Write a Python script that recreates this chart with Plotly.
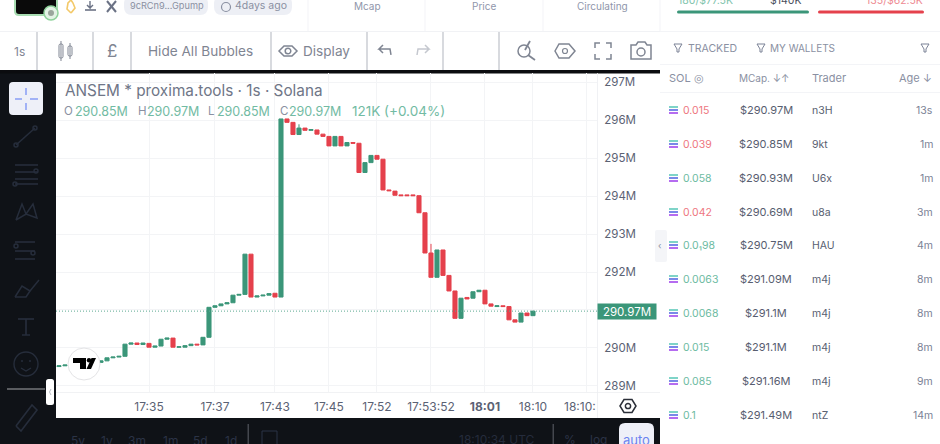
import plotly.graph_objects as go

# ---------- chart data (millions) ----------
opens = [289.51,289.53,289.55,289.56,289.58,289.59,289.60,289.62,289.66,289.74,289.76,289.78,290.10,290.13,290.09,290.12,
         290.02,290.05,290.23,290.26,290.02,290.02,290.06,290.10,290.08,290.28,291.07,291.11,291.16,291.19,291.39,291.41,
         292.47,291.34,291.37,291.39,291.44,291.34,296.03,295.94,295.62,295.79,295.73,295.74,295.63,295.57,295.32,295.57,
         295.32,295.41,295.39,294.62,294.88,295.07,294.97,294.16,294.13,294.03,294.03,294.03,294.01,293.56,292.50,291.86,
         292.58,291.91,291.50,290.78,291.33,291.31,291.48,291.52,291.16,291.09,291.11,291.09,290.74,290.68,290.92,290.85]
closes = [289.53,289.55,289.56,289.58,289.59,289.60,289.62,289.66,289.74,289.76,289.78,290.10,290.13,290.09,290.13,290.02,
          290.05,290.23,290.26,290.02,290.03,290.06,290.10,290.08,290.28,291.07,291.11,291.16,291.19,291.39,291.41,292.47,
          291.34,291.37,291.39,291.43,291.34,296.03,295.94,295.62,295.79,295.73,295.75,295.63,295.57,295.32,295.57,295.32,
          295.41,295.39,294.62,294.88,295.07,294.97,294.16,294.14,294.02,294.01,294.01,294.01,293.56,292.50,291.86,292.58,
          291.91,291.50,290.78,291.31,291.29,291.48,291.52,291.16,291.10,291.11,291.09,290.74,290.68,290.92,290.85,290.97]
highs = [max(o, c) for o, c in zip(opens, closes)]
lows = [min(o, c) for o, c in zip(opens, closes)]
highs[40] = 295.89
highs[62] = 292.74
last_price = 290.97
bars = list(range(len(opens)))

y_ticks = [289, 290, 291, 292, 293, 294, 295, 296, 297]
y_tick_text = ["289M", "290M", "", "292M", "293M", "294M", "295M", "296M", "297M"]
x_tick_pos = [15, 26, 36, 45, 53, 62, 71, 79, 88]
x_tick_text = ["17:35", "17:37", "17:43", "17:45", "17:52", "17:53:52", "<b>18:01</b>", "18:10", ""]

# ---------- trade table ----------
trade_sol = ["0.015", "0.039", "0.058", "0.042", "0.0₁98", "0.0063", "0.0068", "0.015", "0.085", "0.1"]
trade_side = ["s", "s", "b", "s", "b", "b", "b", "b", "b", "b"]
trade_mcap = ["$290.97M", "$290.85M", "$290.93M", "$290.69M", "$290.75M", "$291.09M", "$291.1M", "$291.1M", "$291.16M", "$291.49M"]
trade_who = ["n3H", "9kt", "U6x", "u8a", "HAU", "m4j", "m4j", "m4j", "m4j", "ntZ"]
trade_age = ["13s", "1m", "1m", "3m", "4m", "8m", "8m", "8m", "9m", "14m"]

W, H = 940, 444
GREEN, RED = "#3b9679", "#e5414c"
TXT = "#5b6274"
ICON = "#262d3b"
TOOL = "#7f8592"
FONT = "Inter"


def X(v): return v / W
def Y(v): return 1 - v / H


shapes, notes = [], []


def rect(x0, y0, x1, y1, fill, layer="below", line=None):
    shapes.append(dict(type="rect", xref="paper", yref="paper", x0=X(x0), x1=X(x1), y0=Y(y0), y1=Y(y1),
                       fillcolor=fill, line=dict(width=1 if line else 0, color=line or fill), layer=layer))


def rrect(x0, y0, x1, y1, r, fill, layer="above", line=None, lw=1.5):
    def p(a, b): return f"{X(a):.5f},{Y(b):.5f}"
    d = (f"M{p(x0 + r, y0)} L{p(x1 - r, y0)} Q{p(x1, y0)} {p(x1, y0 + r)} L{p(x1, y1 - r)} Q{p(x1, y1)} {p(x1 - r, y1)} "
         f"L{p(x0 + r, y1)} Q{p(x0, y1)} {p(x0, y1 - r)} L{p(x0, y0 + r)} Q{p(x0, y0)} {p(x0 + r, y0)} Z")
    shapes.append(dict(type="path", xref="paper", yref="paper", path=d, fillcolor=fill,
                       line=dict(width=lw if line else 0, color=line or fill), layer=layer))


def circ(cx, cy, r, fill="rgba(0,0,0,0)", line=None, lw=1.5, layer="above"):
    shapes.append(dict(type="circle", xref="paper", yref="paper", x0=X(cx - r), x1=X(cx + r), y0=Y(cy - r), y1=Y(cy + r),
                       fillcolor=fill, line=dict(width=lw if line else 0, color=line or fill), layer=layer))


def poly(pts, color, lw=1.5, fill=None, layer="above", close=False):
    d = "M" + " L".join(f"{X(a):.5f},{Y(b):.5f}" for a, b in pts) + (" Z" if close else "")
    shapes.append(dict(type="path", xref="paper", yref="paper", path=d, fillcolor=fill or "rgba(0,0,0,0)",
                       line=dict(width=lw if lw else 0, color=color), layer=layer))


def text(x, y, s, size=11, color=TXT, anchor="left"):
    notes.append(dict(xref="paper", yref="paper", x=X(x), y=Y(y), text=s, showarrow=False, xanchor=anchor,
                      yanchor="middle", align=anchor, font=dict(size=size, color=color, family=FONT),
                      borderpad=0, borderwidth=0))


# ---------- page chrome ----------
rect(0, 70, 56, 444, "#0f1217")
rect(0, 418, 660, 444, "#0f1217")
rect(0, 70, 660, 73.5, "#0b0c0f")
for x in (308, 425, 543, 660):
    rect(x - .5, 0, x + .5, 31, "#f3f4f7")
rect(0, 31, 660, 32, "#f1f2f5")
for x in (37, 93, 131, 271, 367, 443, 499):
    rect(x - .7, 32, x + .7, 70, "#c8cbd1")

# top strip
rrect(15, -8, 57, 15, 4, "#0a0a0a", "below", "#a8dcb2", 2)
circ(51, 13, 7, fill="#e3f3e5", line="#8fd29b", lw=1.5)
circ(51, 13, 3, fill="#9aa69c")
poly([(71, 13), (67, 9), (68, 3), (71, 0), (73, 3), (75, 8), (71, 13)], "#f3c969", lw=1.6)
poly([(90, 1), (90, 8), (87, 5), (90, 8), (93, 5)], "#6b7285", lw=1.4)
poly([(85, 10), (96, 10)], "#6b7285", lw=1.6)
poly([(107, 1), (116, 12)], "#6b7285", lw=2)
poly([(116, 1), (107, 12)], "#6b7285", lw=2)
rrect(124, -4, 208, 15, 8, "#edeff5", "below")
rrect(214, -4, 292, 15, 8, "#edeff5", "below")
text(130, 6, "9cRCn9...Gpump", 9.2, "#8a90a2")
circ(226, 7, 4.5, line="#8a90a2", lw=1.2)
text(235, 6, "4days ago", 10.5, "#8a90a2")
text(367, 6, "Mcap", 10, "#8f96ab", "center")
text(484, 6, "Price", 10, "#8f96ab", "center")
text(602, 6, "Circulating", 10, "#8f96ab", "center")

# chart toolbar
text(19, 51, "1s", 12, TOOL, "center")
rrect(59, 44, 63, 58, 1.5, "rgba(0,0,0,0)", "above", TOOL, 1)
rrect(68, 46, 72, 56, 1.5, "rgba(0,0,0,0)", "above", TOOL, 1)
poly([(61, 41), (61, 61)], TOOL, 1)
poly([(70, 43), (70, 59)], TOOL, 1)
text(112, 51, "£", 17, TOOL, "center")
text(200, 51, "Hide All Bubbles", 13.6, TOOL, "center")
poly([(279, 51), (284, 46), (292, 46), (297, 51), (292, 56), (284, 56)], TOOL, 1.5, close=True)
circ(288, 51, 2.8, line=TOOL, lw=1.5)
text(303, 51, "Display", 13.6, TOOL)
poly([(391, 55), (390, 49), (379, 49), (383, 45), (379, 49), (383, 53)], TOOL, 1.5)
poly([(417, 55), (418, 49), (429, 49), (425, 45), (429, 49), (425, 53)], "#c5c8cf", 1.5)
circ(524, 51, 6, line=TOOL, lw=1.5)
poly([(528, 55), (535, 60)], TOOL, 1.8)
poly([(530, 41), (525, 50)], TOOL, 1.8)
poly([(555, 51), (559, 44), (569, 44), (575, 51), (569, 58), (559, 58)], TOOL, 1.5, close=True)
circ(565, 51, 2.5, line=TOOL, lw=1.2)
for sx, sy in ((-1, -1), (1, -1), (-1, 1), (1, 1)):
    poly([(603 + 8 * sx, 51 + 3 * sy), (603 + 8 * sx, 51 + 8 * sy), (603 + 3 * sx, 51 + 8 * sy)], TOOL, 1.5)
poly([(631, 45), (636, 45), (638, 42), (645, 42), (647, 45), (651, 45), (651, 59), (631, 59)], TOOL, 1.5, close=True)
circ(641, 52, 4, line=TOOL, lw=1.5)

# left drawing tools
rrect(9, 82, 43, 115, 4, "#eef0f8")
for a, b in (((26, 88), (26, 95)), ((26, 103), (26, 110)), ((15, 99), (22, 99)), ((30, 99), (38, 99))):
    poly([a, b], "#8ea3f5", 1.6)
poly([(16, 145), (35, 128)], ICON, 1.6)
circ(16, 145, 2, line=ICON)
circ(35, 128, 2, line=ICON)
for yy in (165, 172, 179, 184):
    poly([(15, yy), (38, yy)], ICON, 1.6)
circ(36, 171, 2, line=ICON)
circ(15, 184, 2, line=ICON)
poly([(16, 220), (22, 204), (26, 214), (33, 204), (37, 218), (26, 214), (16, 220)], ICON, 1.5)
for yy in (242, 251, 259):
    poly([(15, yy), (35, yy)], ICON, 1.6)
circ(16, 246, 2, line=ICON)
circ(33, 253, 2, line=ICON)
poly([(15, 297), (22, 286), (30, 291), (39, 280)], ICON, 1.5)
poly([(15, 297), (26, 297), (30, 291)], ICON, 1.5)
poly([(18, 319), (34, 319)], ICON, 1.7)
poly([(26, 319), (26, 335)], ICON, 1.7)
poly([(22, 335), (30, 335)], ICON, 1.5)
circ(26, 364, 12, line=ICON, lw=1.4)
circ(22, 361, 1, fill=ICON)
circ(30, 361, 1, fill=ICON)
poly([(21, 368), (26, 371), (31, 368)], ICON, 1.4)
rect(7, 388, 45, 390, "#5a5c60", "above")
rrect(46, 379, 54, 405, 2.5, "#ffffff")
poly([(51, 389), (49.5, 392), (51, 395)], "#b9bcc4", 1)
poly([(16, 426), (32, 405), (37, 410), (21, 431), (16, 426)], ICON, 1.6)

# bottom bar
for bx, lab in zip((78, 107, 137, 170, 200, 231), ("5y", "1y", "3m", "1m", "5d", "1d")):
    text(bx, 440, lab, 12, "#2b3346", "center")
rect(247.5, 424, 249, 444, "#44474e")
rect(262, 431, 277, 448, "rgba(0,0,0,0)", "above", "#2b3346")
text(497, 439, "18:10:34 UTC", 12, "#252c3c", "center")
rect(552.5, 424, 554, 444, "#44474e")
text(570, 439, "%", 12, "#2b3346", "center")
text(598, 439, "log", 12, "#2b3346", "center")
rrect(619, 423, 654, 452, 6, "#eef0f8")
text(636.5, 440, "auto", 13, "#6b83f0", "center")

# chart frame + furniture
rect(597, 73, 597.8, 418, "#eceef1")
rect(56, 392, 660, 392.8, "#eceef1")
rrect(655, 230, 667, 262, 2, "#f4f5f8")
text(660, 245, "‹", 9, "#8a90a2", "center")

text(65, 90, "ANSEM * proxima.tools · 1s · Solana", 15.3, "#6f7687")
for lx, vx, lab, val in ((64, 75, "O", "290.85M"), (137.5, 147, "H", "290.97M"), (207.5, 217, "L", "290.85M"), (280, 289, "C", "290.97M")):
    text(lx, 111, lab, 11.5, "#8a90a2")
    text(vx, 111, val, 12.5, "#72bba3")
text(352, 111, "121K (+0.04%)", 13.5, "#72bba3")
text(564, 406, "18:10:", 12, TXT)

circ(84, 364, 16, fill="#ffffff", line="#e4e4e6", lw=1)
poly([(73, 358), (86, 358), (86, 369), (80, 369), (80, 363), (73, 363)], "#000000", 0, fill="#000000", close=True)
circ(89, 360.3, 2.2, fill="#000000")
poly([(91.5, 358), (96, 358), (91, 369), (86.5, 369)], "#000000", 0, fill="#000000", close=True)
circ(628, 406, 2.6, line="#2b2f38", lw=1.5)
poly([(620, 406), (624, 399.5), (632, 399.5), (636, 406), (632, 412.5), (624, 412.5)], "#2b2f38", 1.5, close=True)

# ---------- right panel ----------
text(678, 1, "180/$77.5K", 10.5, "#7fc4ad")
text(785, 1, "$140K", 10.5, "#4a4f5c", "center")
text(923, 1, "135/$62.5K", 10.5, "#ee8b92", "right")
rrect(677, 10.5, 809, 13.5, 1.5, GREEN, "below")
rrect(818, 10.5, 924, 13.5, 1.5, RED, "below")
rect(660, 31, 940, 32, "#f3f4f7")
rect(660, 64, 940, 65, "#f3f4f7")
rect(660, 92, 940, 93, "#f3f4f7")
for fx in (678, 761, 925):
    poly([(fx - 4, 44), (fx + 4, 44), (fx + 1, 49), (fx + 1, 52), (fx - 1, 52), (fx - 1, 49)], "#7b8296", 1, close=True)
text(688, 48, "TRACKED", 10.5, "#8a90a2")
text(770, 48, "MY WALLETS", 10, "#8a90a2")
text(669, 78, "SOL ◎", 11, "#8a90a2")
text(739, 78, "MCap. ↓↑", 10, "#8a90a2")
text(812, 78, "Trader", 11, "#8a90a2")
text(932, 78, "Age ↓", 11, "#8a90a2", "right")

row_y = [110, 144, 178, 212, 245, 279, 313, 347, 381, 415]
for ry, sol, side, mc, who, age in zip(row_y, trade_sol, trade_side, trade_mcap, trade_who, trade_age):
    rect(669, ry - 4, 678, ry - 2, "#7fd4c8", "above")
    rect(669, ry - 1, 678, ry + 1, "#7a89e8", "above")
    rect(669, ry + 2, 678, ry + 4, "#b56cf0", "above")
    text(683, ry, sol, 10.5, "#ee7680" if side == "s" else "#6dbba2")
    text(766, ry, mc, 11, "#585e70", "center")
    text(812, ry, who, 10.5, "#585e70")
    text(933, ry, age, 10.5, "#7b8296", "right")

# ---------- figure ----------
fig = go.Figure(go.Candlestick(
    x=bars, open=opens, high=highs, low=lows, close=closes,
    increasing=dict(line=dict(color=GREEN, width=1), fillcolor=GREEN),
    decreasing=dict(line=dict(color=RED, width=1), fillcolor=RED),
    whiskerwidth=0, hoverinfo="skip", showlegend=False,
))
shapes.append(dict(type="line", xref="x", yref="y", x0=-0.5, x1=89.67, y0=last_price, y1=last_price,
                   line=dict(color="#5aa890", width=1, dash="1px,2px"), layer="above"))
notes.append(dict(xref="paper", yref="y", x=X(597), y=last_price, text=f"{last_price:.2f}M", showarrow=False,
                  xanchor="left", yanchor="middle", bgcolor=GREEN, font=dict(size=11.5, color="#ffffff", family=FONT),
                  borderpad=1, width=56, height=13))

fig.update_layout(
    width=W, height=H, margin=dict(l=0, r=0, t=0, b=0, pad=0),
    paper_bgcolor="#ffffff", plot_bgcolor="rgba(0,0,0,0)",
    shapes=shapes, annotations=notes, showlegend=False, font=dict(family=FONT),
    boxgap=0.32, boxgroupgap=0,
    xaxis=dict(domain=[X(56), X(597)], range=[-0.5, 89.67], rangeslider=dict(visible=False),
               tickmode="array", tickvals=x_tick_pos, ticktext=x_tick_text,
               showgrid=True, gridcolor="#f3f4f6", gridwidth=1, zeroline=False, showline=False,
               ticks="outside", ticklen=4, tickcolor="rgba(0,0,0,0)",
               tickfont=dict(size=12, color=TXT, family=FONT), fixedrange=True),
    yaxis=dict(domain=[Y(392), Y(73)], range=[288.84, 297.24], side="right",
               tickmode="array", tickvals=y_ticks, ticktext=y_tick_text,
               showgrid=True, gridcolor="#f3f4f6", gridwidth=1, zeroline=False, showline=False,
               ticks="outside", ticklen=4, tickcolor="rgba(0,0,0,0)",
               tickfont=dict(size=11.5, color=TXT, family=FONT), fixedrange=True),
)

fig.write_html("out.html", config=dict(displayModeBar=False),
               post_script="document.body.style.margin='0';")
